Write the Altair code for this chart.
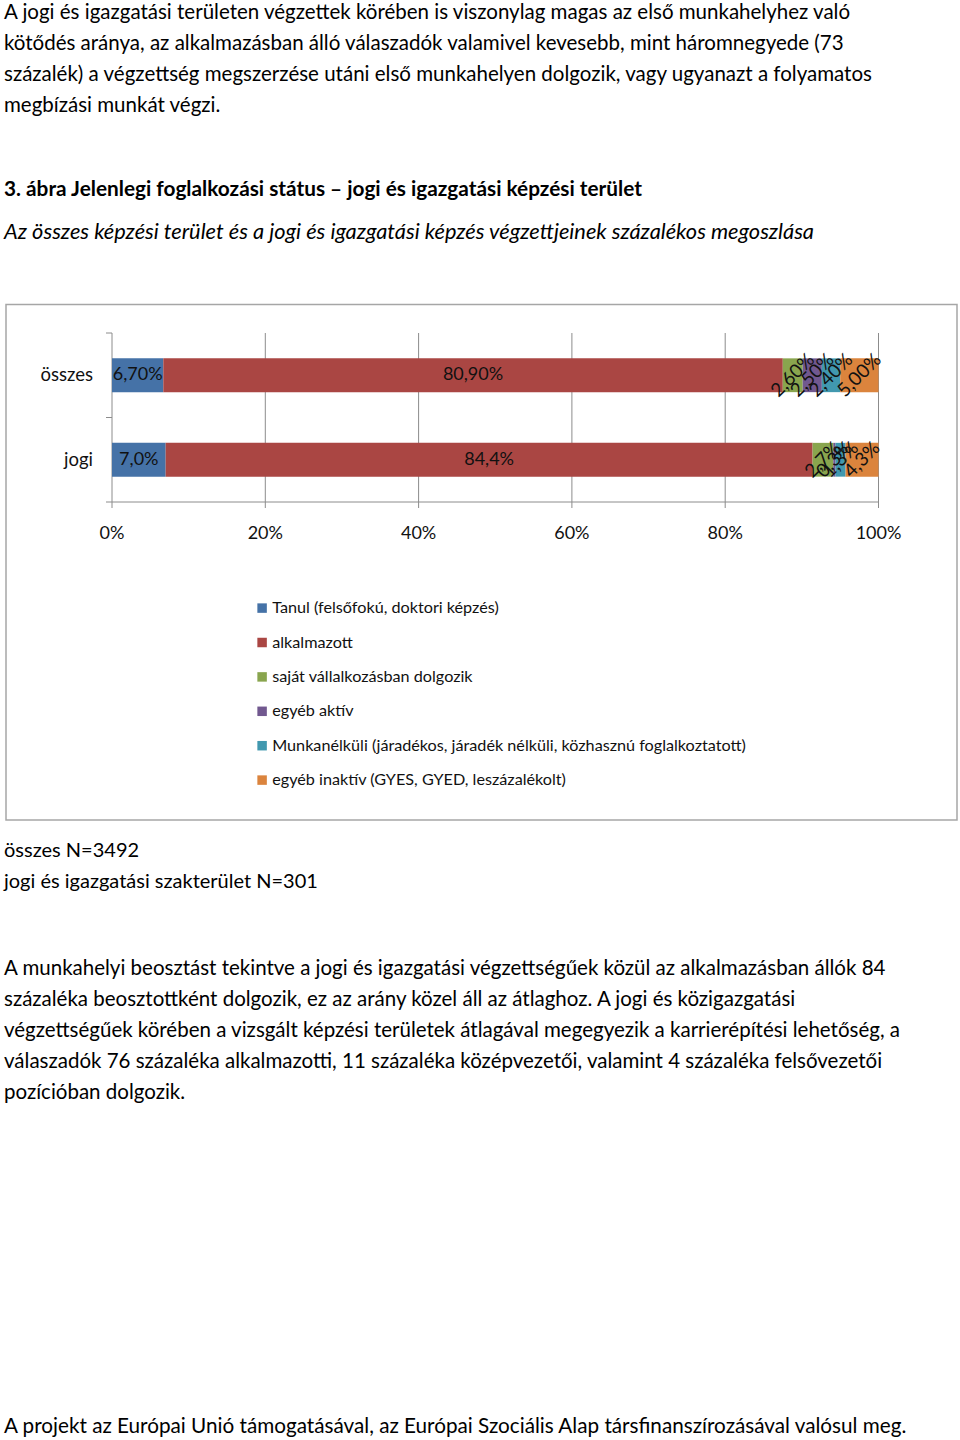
import altair as alt
import pandas as pd

# ---------------- data ----------------
categories = ["összes", "jogi"]
series = [
    "Tanul (felsőfokú, doktori képzés)",
    "alkalmazott",
    "saját vállalkozásban dolgozik",
    "egyéb aktív",
    "Munkanélküli (járadékos, járadék nélküli, közhasznú foglalkoztatott)",
    "egyéb inaktív (GYES, GYED, leszázalékolt)",
]
osszes_values = [6.7, 80.9, 2.6, 2.5, 2.4, 5.0]
jogi_values = [7.0, 84.4, 2.7, 0.3, 1.3, 4.3]
osszes_labels = ["6,70%", "80,90%", "2,60%", "2,50%", "2,40%", "5,00%"]
jogi_labels = ["7,0%", "84,4%", "2,7%", "0,3%", "1,3%", "4,3%"]
tick_values = [0, 20, 40, 60, 80, 100]
tick_labels = ["0%", "20%", "40%", "60%", "80%", "100%"]
colors = ["#4572A7", "#AA4643", "#89A54E", "#71588F", "#4198AF", "#DB843D"]

para1 = [
    "A jogi és igazgatási területen végzettek körében is viszonylag magas az első munkahelyhez való",
    "kötődés aránya, az alkalmazásban álló válaszadók valamivel kevesebb, mint háromnegyede (73",
    "százalék) a végzettség megszerzése utáni első munkahelyen dolgozik, vagy ugyanazt a folyamatos",
    "megbízási munkát végzi.",
]
fig_title = "3. ábra Jelenlegi foglalkozási státus – jogi és igazgatási képzési terület"
fig_subtitle = "Az összes képzési terület és a jogi és igazgatási képzés végzettjeinek százalékos megoszlása"
notes = ["összes N=3492", "jogi és igazgatási szakterület N=301"]
para2 = [
    "A munkahelyi beosztást tekintve a jogi és igazgatási végzettségűek közül az alkalmazásban állók 84",
    "százaléka beosztottként dolgozik, ez az arány közel áll az átlaghoz. A jogi és közigazgatási",
    "végzettségűek körében a vizsgált képzési területek átlagával megegyezik a karrierépítési lehetőség, a",
    "válaszadók 76 százaléka alkalmazotti, 11 százaléka középvezetői, valamint 4 százaléka felsővezetői",
    "pozícióban dolgozik.",
]
footer = "A projekt az Európai Unió támogatásával, az Európai Szociális Alap társfinanszírozásával valósul meg."

# ---------------- build tables ----------------
rows = []
for cat, vals, labs in [("összes", osszes_values, osszes_labels), ("jogi", jogi_values, jogi_labels)]:
    total = sum(vals)
    cum = 0.0
    for i, (s, v, l) in enumerate(zip(series, vals, labs)):
        start = cum / total * 100
        cum += v
        end = cum / total * 100
        rows.append({"category": cat, "series": s, "idx": i, "start": start,
                     "end": end, "mid": (start + end) / 2, "label": l})
bars_df = pd.DataFrame(rows)
ticks_df = pd.DataFrame({"value": tick_values, "label": tick_labels})
cats_df = pd.DataFrame({"category": categories})

FONT = "Lato"
X0, X100 = 112, 878.5
Y_TOP, Y_AXIS = 333, 502

xscale = alt.Scale(domain=[0, 100], range=[X0, X100], nice=False, zero=False)
yscale = alt.Scale(domain=categories, range=[Y_TOP, Y_AXIS], paddingInner=0.6, paddingOuter=0.3)
one = alt.Data(values=[{}])

layers = []

# chart frame
layers.append(alt.Chart(one).mark_rect(fill="white", stroke="#A6A6A6", strokeWidth=1.5).encode(
    x=alt.value(6), x2=alt.value(957), y=alt.value(304.5), y2=alt.value(820)))

# gridlines / ticks
layers.append(alt.Chart(ticks_df).mark_rule(color="#8C8C8C", strokeWidth=1).encode(
    x=alt.X("value:Q", scale=xscale, axis=None),
    y=alt.value(Y_TOP), y2=alt.value(Y_AXIS + 6)))
layers.append(alt.Chart(one).mark_rule(color="#8C8C8C", strokeWidth=1).encode(
    x=alt.value(X0 - 6), x2=alt.value(X100), y=alt.value(Y_AXIS)))
for yy in [Y_TOP, (Y_TOP + Y_AXIS) / 2]:
    layers.append(alt.Chart(one).mark_rule(color="#8C8C8C", strokeWidth=1).encode(
        x=alt.value(X0 - 6), x2=alt.value(X0), y=alt.value(yy)))

# bars
layers.append(alt.Chart(bars_df).mark_bar().encode(
    x=alt.X("start:Q", scale=xscale, axis=None),
    x2="end:Q",
    y=alt.Y("category:N", scale=yscale, axis=None),
    color=alt.Color("series:N", scale=alt.Scale(domain=series, range=colors),
                    legend=alt.Legend(title=None, orient="none", legendX=254, legendY=600,
                                      symbolType="square", symbolSize=90, symbolStrokeWidth=0,
                                      labelFont=FONT, labelFontSize=16.2, labelColor="#111111",
                                      labelLimit=700, labelOffset=2, rowPadding=17.4,
                                      padding=0)),
))

# bar labels
layers.append(alt.Chart(bars_df[bars_df.idx < 2]).mark_text(
    font=FONT, fontSize=18, color="#111111", baseline="middle", align="center").encode(
    x=alt.X("mid:Q", scale=xscale, axis=None),
    y=alt.Y("category:N", scale=yscale, axis=None),
    text="label:N"))
layers.append(alt.Chart(bars_df[bars_df.idx >= 2]).mark_text(
    font=FONT, fontSize=19, color="#111111", baseline="middle", align="center", angle=315).encode(
    x=alt.X("mid:Q", scale=xscale, axis=None),
    y=alt.Y("category:N", scale=yscale, axis=None),
    text="label:N"))

# category labels
layers.append(alt.Chart(cats_df).mark_text(
    font=FONT, fontSize=18.5, color="#111111", baseline="middle", align="right").encode(
    x=alt.value(93),
    y=alt.Y("category:N", scale=yscale, axis=None),
    text="category:N"))

# tick labels
layers.append(alt.Chart(ticks_df).mark_text(
    font=FONT, fontSize=18, color="#111111", baseline="middle", align="center").encode(
    x=alt.X("value:Q", scale=xscale, axis=None),
    y=alt.value(534),
    text="label:N"))

# document text
def block(lines, x, y, size=20.5, weight="normal", style="normal", lh=31):
    return alt.Chart(one).mark_text(
        text=lines, font=FONT, fontSize=size, fontWeight=weight, fontStyle=style,
        color="#000000", align="left", baseline="alphabetic", lineHeight=lh).encode(
        x=alt.value(x), y=alt.value(y))

layers.append(block(para1, 4, 18.5))
layers.append(block(fig_title, 4, 196, size=20.8, weight="bold"))
layers.append(block(fig_subtitle, 4, 239, size=21.8, style="italic"))
layers.append(block(notes, 4, 857, size=20))
layers.append(block(para2, 4, 975))
layers.append(block(footer, 4, 1433, size=20.7))

chart = alt.layer(*layers).properties(
    width=960, height=1440, padding=0, autosize="none", background="white"
).configure_view(stroke=None)

chart.save("out.html", embed_options={"renderer": "svg", "actions": False})
